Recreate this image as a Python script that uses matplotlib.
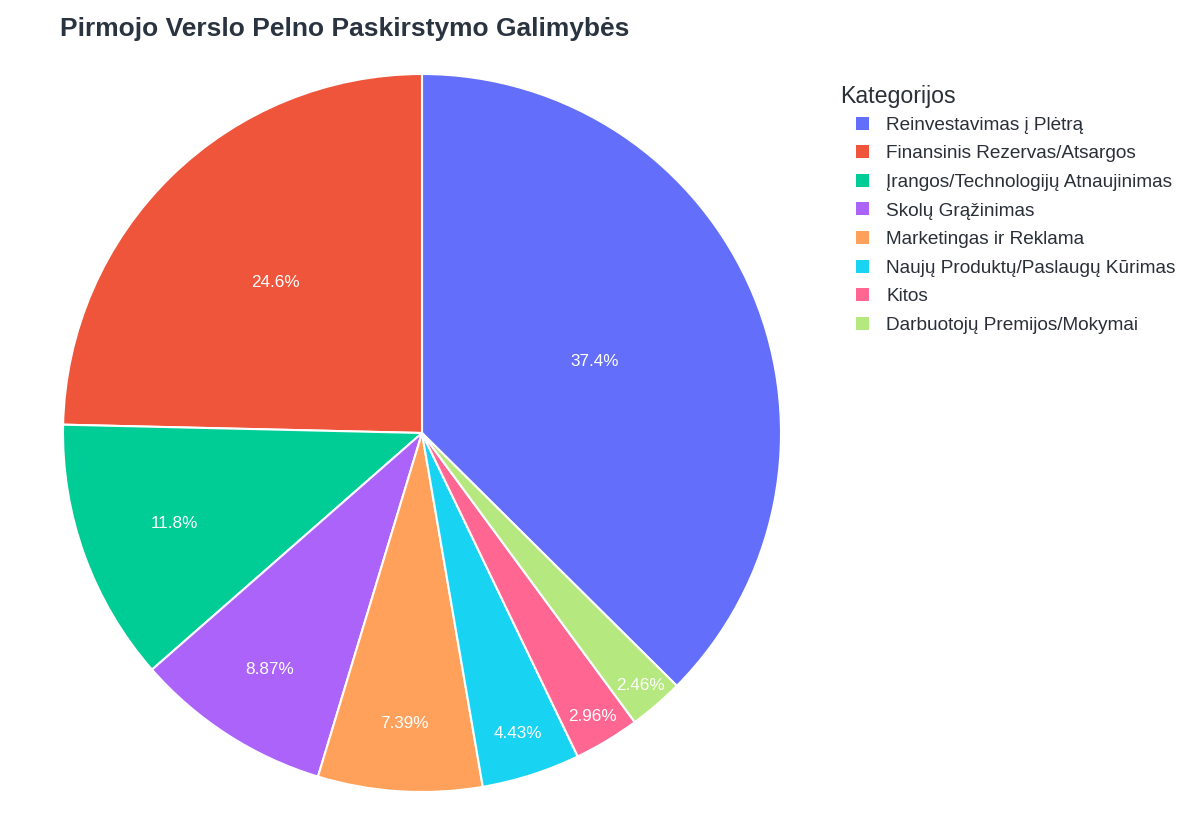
import matplotlib
matplotlib.use("Agg")
import matplotlib.pyplot as plt
import numpy as np

categories = [
    "Reinvestavimas į Plėtrą",
    "Finansinis Rezervas/Atsargos",
    "Įrangos/Technologijų Atnaujinimas",
    "Skolų Grąžinimas",
    "Marketingas ir Reklama",
    "Naujų Produktų/Paslaugų Kūrimas",
    "Kitos",
    "Darbuotojų Premijos/Mokymai",
]
values = [76, 50, 24, 18, 15, 9, 6, 5]
colors = ["#636EFA", "#EF553B", "#00CC96", "#AB63FA", "#FFA15A", "#19D3F3", "#FF6692", "#B6E880"]
label_radius = [0.521, 0.586, 0.735, 0.784, 0.811, 0.88, 0.92, 0.93]

plt.rcParams['font.family'] = ['Liberation Sans', 'DejaVu Sans']

W, H = 1200, 840
fig = plt.figure(figsize=(W / 100, H / 100), dpi=100)

cx, cy, R = 422, 433, 359
ax = fig.add_axes([(cx - R) / W, (H - cy - R) / H, 2 * R / W, 2 * R / H])

total = sum(values)
start = 90 - 360 * values[0] / total
wedges, _ = ax.pie(values, colors=colors, startangle=start, counterclock=True,
                   wedgeprops=dict(edgecolor="white", linewidth=1.5))
for w, v, r in zip(wedges, values, label_radius):
    mid = np.deg2rad((w.theta1 + w.theta2) / 2)
    pct = 100 * v / total
    ax.text(r * np.cos(mid), r * np.sin(mid), f"{pct:.3g}%", ha="center", va="center",
            color="white", fontsize=12.3)
ax.set_xlim(-1, 1)
ax.set_ylim(-1, 1)
ax.set_aspect("equal")
ax.axis("off")

fig.text(60 / W, 1 - 29 / H, "Pirmojo Verslo Pelno Paskirstymo Galimybės", fontsize=19,
         fontweight="bold", color="#2a3440", ha="left", va="center")

fig.text(840 / W, 1 - 96 / H, "Kategorijos", fontsize=16.7, color="#2a2f38", ha="left", va="center")
leg = fig.legend(wedges, categories, loc="upper left", bbox_to_anchor=(856 / W, 1 - 116.5 / H),
                 frameon=False, borderpad=0, borderaxespad=0, fontsize=13.7,
                 handlelength=0.68, handleheight=0.68, handletextpad=0.9, labelspacing=0.6)
for t in leg.get_texts():
    t.set_color("#2a2f38")
for h in leg.legend_handles:
    h.set_edgecolor("none")

fig.savefig("out.png", dpi=100, facecolor="white")
